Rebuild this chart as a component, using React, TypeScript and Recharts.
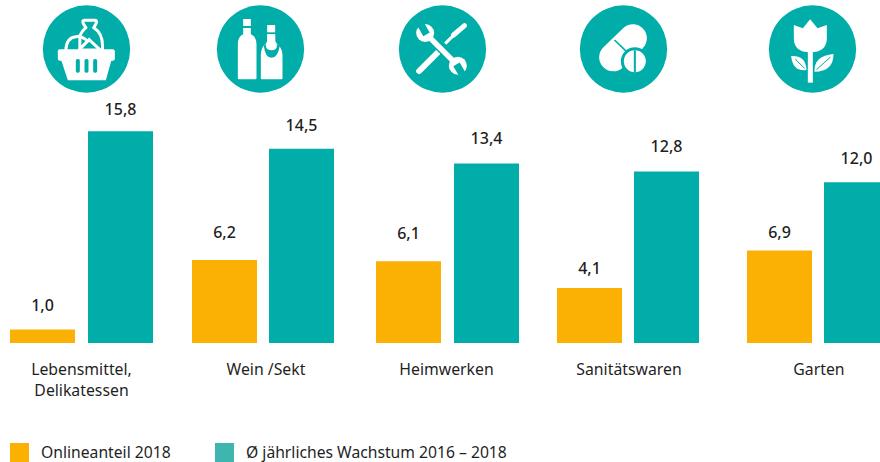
import { BarChart, Bar, XAxis, YAxis, LabelList } from "recharts";

const categories = [
  "Lebensmittel,\nDelikatessen",
  "Wein /Sekt",
  "Heimwerken",
  "Sanitätswaren",
  "Garten",
];
const onlineShare = [1.0, 6.2, 6.1, 4.1, 6.9];
const yearlyGrowth = [15.8, 14.5, 13.4, 12.8, 12.0];

const legendLabels = ["Onlineanteil 2018", "Ø jährliches Wachstum 2016 – 2018"];

// the groups in the original are not evenly spaced, so each one gets its own small chart
const PANEL_LEFT = [10, 192, 376, 557, 747];
const BAR_GAP = [13, 12, 13, 12, 12];
const ONLINE_LABEL_GAP = [25, 28, 28, 20, 19];
const GROWTH_LABEL_GAP = [22, 24, 25, 25, 24];
const TICK_SHIFT = [0, 3, -1, 1, 1];
const ICON_CENTER = [86.5, 260.5, 442.5, 623.5, 812.5];

const ORANGE = "#fbb103";
const TEAL = "#00ada8";
const TEXT = "#1f1f1f";
const FONT = "'Noto Sans', sans-serif";

const formatValue = (v: number) => v.toFixed(1).replace(".", ",");

function ValueLabel({ x, y, width, value, gap }: any) {
  return (
    <text
      x={x + width / 2}
      y={y - gap + 6}
      textAnchor="middle"
      fontSize={16}
      fontWeight={500}
      fill={TEXT}
      fontFamily={FONT}
    >
      {formatValue(value)}
    </text>
  );
}

function CategoryTick({ x, y, payload, shift }: any) {
  const lines = String(payload.value).split("\n");
  return (
    <text textAnchor="middle" fontSize={15.8} fill={TEXT} fontFamily={FONT}>
      {lines.map((line, i) => (
        <tspan key={line} x={x + shift} y={y + 24 + i * 21}>
          {line}
        </tspan>
      ))}
    </text>
  );
}

function Panel({ index }: { index: number }) {
  const rows = [
    {
      category: categories[index],
      online: onlineShare[index],
      growth: yearlyGrowth[index],
    },
  ];
  return (
    <div style={{ position: "absolute", left: PANEL_LEFT[index] - 1, top: 0 }}>
      <BarChart
        width={132 + BAR_GAP[index]}
        height={420}
        data={rows}
        margin={{ top: 128.6, right: 0, bottom: 0, left: 0 }}
        barSize={65}
        barGap={BAR_GAP[index]}
        barCategoryGap={0}
        style={{ overflow: "visible" }}
      >
        <XAxis
          dataKey="category"
          axisLine={false}
          tickLine={false}
          height={77}
          interval={0}
          tick={<CategoryTick shift={TICK_SHIFT[index]} />}
        />
        <YAxis hide domain={[0, 16]} />
        <Bar dataKey="online" fill={ORANGE} isAnimationActive={false}>
          <LabelList
            dataKey="online"
            content={<ValueLabel gap={ONLINE_LABEL_GAP[index]} />}
          />
        </Bar>
        <Bar dataKey="growth" fill={TEAL} isAnimationActive={false}>
          <LabelList
            dataKey="growth"
            content={<ValueLabel gap={GROWTH_LABEL_GAP[index]} />}
          />
        </Bar>
      </BarChart>
    </div>
  );
}

function Basket() {
  return (
    <g fill="none" stroke="#fff" strokeWidth={9}>
      <path d="M125 46 H158 Q164 46 161 55 L154 68 Q180 84 180 122 L180 135 H112 L112 92 Q118 78 130 68 L122 55 Q119 46 125 46 Z" />
      <path d="M70 135 Q72 98 100 95 Q122 93 136 110" />
      <path d="M110 134 L140 104 L172 134" />
      <rect x={46} y={133} width={171} height={34} rx={6} fill="#fff" stroke="none" />
      <path d="M56 165 H207 L190 226 H76 Z" fill="#fff" stroke="none" />
      <rect x={100} y={162} width={12} height={41} rx={5} fill={TEAL} stroke="none" />
      <rect x={126} y={162} width={12} height={41} rx={5} fill={TEAL} stroke="none" />
      <rect x={152} y={162} width={12} height={41} rx={5} fill={TEAL} stroke="none" />
    </g>
  );
}

function Bottles() {
  return (
    <g fill="#fff">
      <rect x={80} y={42} width={23} height={21} />
      <path d="M80 69 H103 V88 Q120 95 120 118 V220 Q120 223 117 223 H67 Q64 223 64 220 V118 Q64 95 80 88 Z" />
      <rect x={152} y={60} width={24} height={22} />
      <path d="M133 220 V150 Q134 128 144 120 L152 112 V88 H176 V112 L186 120 Q197 132 198 150 V220 Q198 223 195 223 H136 Q133 223 133 220 Z" />
      <path d="M142 122 Q146 158 165 158 Q184 158 190 122 Q180 120 176 112 H152 Q150 120 142 122 Z" fill={TEAL} />
      <path d="M152 88 H176 V108 Q186 122 178 132 Q165 140 152 132 Q144 122 152 108 Z" />
    </g>
  );
}

function Tools() {
  return (
    <g>
      <line x1={140} y1={116} x2={168} y2={88} stroke="#fff" strokeWidth={9} />
      <line x1={165} y1={90} x2={198} y2={62} stroke="#fff" strokeWidth={15} strokeLinecap="round" />
      <line x1={62} y1={198} x2={116} y2={144} stroke="#fff" strokeWidth={18} strokeLinecap="round" />
      <line x1={80} y1={84} x2={178} y2={182} stroke={TEAL} strokeWidth={25} />
      <line x1={80} y1={84} x2={178} y2={182} stroke="#fff" strokeWidth={16} />
      <circle cx={80} cy={84} r={27} fill="#fff" />
      <line x1={84} y1={88} x2={62} y2={50} stroke={TEAL} strokeWidth={22} />
      <circle cx={178} cy={182} r={27} fill="#fff" />
      <line x1={174} y1={178} x2={196} y2={216} stroke={TEAL} strokeWidth={22} />
    </g>
  );
}

function Pills() {
  return (
    <g>
      <line x1={101} y1={157} x2={160} y2={100} stroke="#fff" strokeWidth={84} strokeLinecap="round" />
      <line x1={105} y1={105} x2={150} y2={148} stroke={TEAL} strokeWidth={5} />
      <circle cx={166} cy={169} r={42} fill={TEAL} />
      <circle cx={166} cy={169} r={33} fill="#fff" />
      <rect x={163} y={136} width={6} height={66} fill={TEAL} />
    </g>
  );
}

function Tulip() {
  return (
    <g fill="#fff">
      <path d="M76 60 L103 70 L125 43 L147 70 L175 60 V100 Q175 142 125 142 Q76 142 76 100 Z" />
      <rect x={118} y={140} width={15} height={93} />
      <path d="M68 153 Q112 150 114 195 Q72 200 68 153 Z" />
      <path d="M195 147 Q195 200 138 200 Q136 152 195 147 Z" />
      <path d="M80 162 L108 190" stroke={TEAL} strokeWidth={3} fill="none" />
      <path d="M186 156 L144 194" stroke={TEAL} strokeWidth={3} fill="none" />
    </g>
  );
}

const ICONS = [Basket, Bottles, Tools, Pills, Tulip];

function Icons() {
  return (
    <svg
      width={880}
      height={100}
      style={{ position: "absolute", left: 0, top: 0 }}
    >
      {ICONS.map((Icon, i) => (
        <g key={i} transform={`translate(${ICON_CENTER[i] - 44} 5) scale(${1 / 3})`}>
          <circle cx={132} cy={132} r={131} fill={TEAL} />
          <Icon />
        </g>
      ))}
    </svg>
  );
}

function LegendRow() {
  const items = [
    { left: 10, color: ORANGE, textLeft: 41 },
    { left: 215, color: "#3eb5ae", textLeft: 246 },
  ];
  return (
    <>
      {items.map((item, i) => (
        <div key={i}>
          <div
            style={{
              position: "absolute",
              left: item.left,
              top: 443,
              width: 19,
              height: 19,
              background: item.color,
            }}
          />
          <div
            style={{
              position: "absolute",
              left: item.textLeft,
              top: 442,
              fontSize: 15.7,
              lineHeight: "20px",
              color: TEXT,
              fontFamily: FONT,
              whiteSpace: "nowrap",
            }}
          >
            {legendLabels[i]}
          </div>
        </div>
      ))}
    </>
  );
}

export default function App() {
  return (
    <div
      style={{
        position: "fixed",
        left: 0,
        top: 0,
        width: 880,
        height: 462,
        overflow: "hidden",
        background: "#fff",
      }}
    >
      <Icons />
      {categories.map((_, i) => (
        <Panel key={i} index={i} />
      ))}
      <LegendRow />
    </div>
  );
}
